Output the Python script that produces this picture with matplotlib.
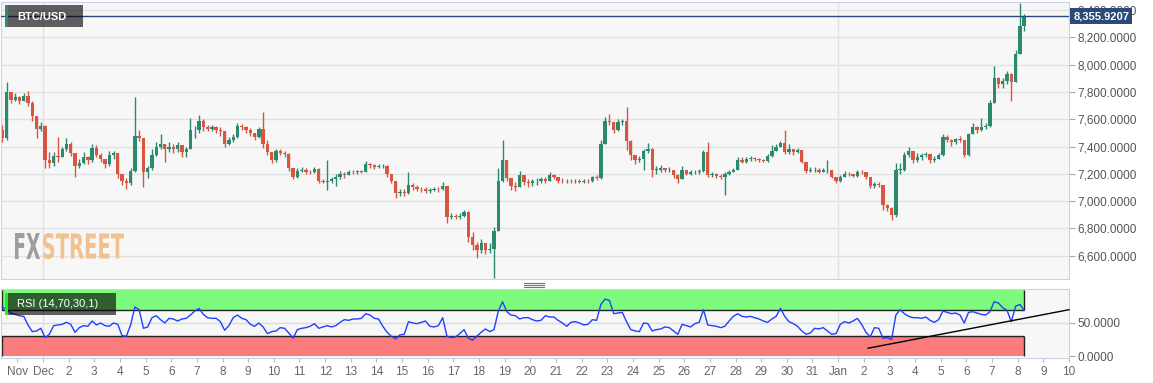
import numpy as np
import matplotlib
matplotlib.use('Agg')
import matplotlib.pyplot as plt
from matplotlib.lines import Line2D
from matplotlib.patches import Rectangle, PathPatch
from matplotlib.textpath import TextPath
from matplotlib.font_manager import FontProperties
from matplotlib import transforms
from matplotlib.ticker import FuncFormatter

plt.rcParams['font.family'] = ['Liberation Sans', 'DejaVu Sans']

#%%
# BTC/USD 4h candles from Nov 29 08:00, x axis in days since Dec 1 00:00
start_day = -5 / 3
bar_days = 1 / 6
first_open = 7520

closes = [
    7460, 7800, 7740, 7760, 7730, 7770, 7720, 7620, 7530, 7550,
    7300, 7280, 7330, 7320, 7380, 7420, 7350, 7260, 7280, 7320,
    7300, 7390, 7340, 7310, 7270, 7340, 7350, 7200, 7150, 7130,
    7220, 7480, 7460, 7210, 7240, 7340, 7400, 7420, 7380, 7400,
    7380, 7410, 7360, 7380, 7520, 7520, 7590, 7540, 7530, 7540,
    7520, 7510, 7420, 7450, 7470, 7550, 7540, 7520, 7500, 7470,
    7530, 7420, 7360, 7300, 7370, 7350, 7345, 7240, 7180, 7220,
    7230, 7215, 7210, 7235, 7150, 7140, 7150, 7160, 7180, 7200,
    7190, 7215, 7210, 7220, 7215, 7270, 7265, 7250, 7255, 7260,
    7200, 7150, 7060, 7070, 7060, 7120, 7100, 7090, 7085, 7075,
    7080, 7090, 7085, 7110, 6880, 6890, 6885, 6890, 6920, 6740,
    6680, 6640, 6690, 6640, 6650, 6780, 7150, 7300, 7170, 7110,
    7100, 7190, 7140, 7130, 7145, 7150, 7165, 7150, 7190, 7175,
    7150, 7145, 7150, 7145, 7150, 7140, 7150, 7145, 7175, 7170,
    7420, 7590, 7580, 7520, 7580, 7590, 7440, 7340, 7300, 7310,
    7370, 7380, 7230, 7230, 7240, 7225, 7230, 7190, 7160, 7230,
    7200, 7210, 7215, 7220, 7360, 7190, 7200, 7185, 7175, 7200,
    7210, 7230, 7300, 7290, 7310, 7315, 7305, 7300, 7295, 7330,
    7370, 7400, 7425, 7360, 7380, 7360, 7375, 7290, 7220, 7225,
    7230, 7215, 7225, 7230, 7180, 7145, 7180, 7200, 7195, 7185,
    7215, 7210, 7175, 7110, 7125, 7120, 6970, 6950, 6900, 7230,
    7230, 7340, 7370, 7300, 7320, 7340, 7345, 7300, 7310, 7340,
    7470, 7450, 7430, 7455, 7450, 7340, 7490, 7540, 7520, 7540,
    7550, 7720, 7900, 7860, 7880, 7930, 7870, 8080, 8280, 8355.9207,
]
highs = [
    7560, 7870, 7800, 7790, 7770, 7790, 7810, 7730, 7620, 7580,
    7560, 7360, 7360, 7470, 7400, 7460, 7430, 7350, 7310, 7360,
    7330, 7420, 7410, 7350, 7310, 7370, 7370, 7340, 7200, 7170,
    7240, 7760, 7520, 7460, 7260, 7380, 7430, 7490, 7420, 7430,
    7420, 7430, 7410, 7400, 7610, 7550, 7630, 7600, 7560, 7555,
    7550, 7540, 7510, 7470, 7490, 7575, 7565, 7550, 7535, 7500,
    7545, 7650, 7450, 7360, 7385, 7380, 7370, 7350, 7240, 7240,
    7250, 7240, 7230, 7250, 7240, 7160, 7300, 7180, 7200, 7220,
    7215, 7230, 7230, 7230, 7230, 7295, 7280, 7275, 7270, 7275,
    7265, 7200, 7150, 7090, 7085, 7210, 7130, 7120, 7105, 7100,
    7095, 7100, 7100, 7140, 7110, 6910, 6905, 6910, 6935, 6930,
    6770, 6700, 6720, 6690, 6690, 6810, 7240, 7450, 7300, 7170,
    7140, 7220, 7190, 7160, 7160, 7170, 7180, 7175, 7210, 7200,
    7180, 7170, 7165, 7160, 7160, 7160, 7165, 7160, 7185, 7190,
    7450, 7615, 7640, 7580, 7600, 7605, 7690, 7450, 7330, 7330,
    7385, 7425, 7390, 7260, 7265, 7245, 7250, 7230, 7200, 7255,
    7230, 7225, 7230, 7235, 7375, 7435, 7215, 7205, 7195, 7215,
    7230, 7245, 7320, 7325, 7325, 7330, 7325, 7315, 7310, 7345,
    7410, 7420, 7440, 7520, 7420, 7380, 7390, 7375, 7290, 7250,
    7250, 7240, 7240, 7300, 7230, 7180, 7190, 7220, 7215, 7200,
    7230, 7230, 7205, 7175, 7140, 7140, 7120, 6975, 6960, 7280,
    7280, 7360, 7400, 7360, 7350, 7355, 7360, 7330, 7330, 7355,
    7490, 7485, 7455, 7465, 7475, 7450, 7500, 7575, 7550, 7610,
    7570, 7740, 7990, 7910, 7900, 7950, 7940, 8110, 8455, 8370,
]
lows = [
    7430, 7450, 7720, 7730, 7710, 7730, 7700, 7590, 7460, 7510,
    7240, 7240, 7260, 7290, 7320, 7370, 7330, 7180, 7240, 7270,
    7270, 7290, 7320, 7290, 7240, 7260, 7310, 7170, 7120, 7090,
    7120, 7210, 7440, 7100, 7170, 7230, 7330, 7380, 7290, 7360,
    7350, 7360, 7320, 7320, 7380, 7460, 7500, 7510, 7510, 7510,
    7500, 7480, 7400, 7410, 7430, 7460, 7520, 7500, 7480, 7450,
    7460, 7390, 7340, 7280, 7290, 7340, 7320, 7220, 7160, 7170,
    7210, 7200, 7195, 7205, 7130, 7130, 7080, 7130, 7110, 7165,
    7170, 7190, 7200, 7200, 7205, 7210, 7245, 7235, 7240, 7245,
    7180, 7135, 7025, 7040, 7040, 7050, 7080, 7075, 7070, 7060,
    7060, 7075, 7070, 7080, 6840, 6870, 6870, 6870, 6880, 6700,
    6640, 6580, 6620, 6615, 6620, 6435, 6780, 7140, 7150, 7080,
    7075, 7100, 7120, 7105, 7110, 7120, 7135, 7135, 7150, 7160,
    7135, 7130, 7135, 7130, 7135, 7130, 7135, 7130, 7140, 7155,
    7160, 7420, 7560, 7500, 7510, 7560, 7375, 7300, 7270, 7290,
    7230, 7350, 7180, 7200, 7215, 7210, 7215, 7170, 7135, 7160,
    7190, 7190, 7195, 7200, 7215, 7175, 7180, 7170, 7165, 7045,
    7190, 7210, 7225, 7280, 7280, 7295, 7295, 7290, 7285, 7290,
    7325, 7370, 7395, 7345, 7345, 7340, 7355, 7280, 7205, 7210,
    7210, 7205, 7210, 7205, 7170, 7130, 7140, 7180, 7185, 7175,
    7180, 7195, 7165, 7095, 7095, 7100, 6935, 6930, 6860, 6880,
    7200, 7220, 7325, 7280, 7290, 7300, 7325, 7280, 7290, 7310,
    7330, 7430, 7405, 7420, 7430, 7320, 7330, 7500, 7500, 7510,
    7530, 7540, 7720, 7830, 7830, 7860, 7730, 7930, 8080, 8250,
]
rsi = [
    74, 70, 65, 63, 61, 60, 47, 37, 38, 42,
    28, 33, 46, 47, 48, 51, 48, 36, 43, 46,
    45, 53, 47, 50, 46, 45, 50, 48, 31, 30,
    47, 74, 70, 42, 44, 58, 61, 55, 50, 57,
    56, 53, 56, 57, 62, 68, 72, 63, 58, 57,
    57, 52, 39, 46, 58, 62, 57, 55, 48, 45,
    50, 44, 34, 37, 38, 43, 42, 35, 27, 40,
    42, 43, 45, 49, 42, 44, 46, 44, 46, 51,
    55, 54, 56, 56, 57, 64, 62, 57, 56, 45,
    36, 30, 26, 32, 33, 52, 50, 49, 51, 53,
    45, 44, 46, 58, 30, 28, 29, 34, 40, 27,
    24, 30, 36, 41, 37, 40, 68, 82, 67, 62,
    61, 56, 58, 58, 55, 53, 54, 61, 59, 59,
    54, 50, 45, 51, 52, 50, 47, 48, 55, 54,
    78, 86, 84, 64, 65, 66, 52, 40, 38, 37,
    50, 49, 38, 40, 41, 44, 43, 38, 33, 48,
    46, 44, 49, 51, 70, 47, 46, 45, 43, 45,
    53, 60, 64, 60, 59, 60, 58, 56, 53, 51,
    56, 60, 72, 60, 52, 49, 45, 38, 33, 35,
    42, 41, 43, 38, 33, 34, 48, 52, 50, 53,
    57, 48, 36, 29, 43, 42, 27, 28, 25, 62,
    70, 64, 60, 58, 58, 57, 59, 54, 51, 55,
    68, 66, 64, 65, 62, 50, 66, 67, 65, 63,
    62, 67, 82, 80, 73, 69, 52, 75, 78, 69,
]

# RSI support trend line (days, RSI)
trend_days = [32.17, 40.0]
trend_rsi = [12, 70]

price_ticks = [6600, 6800, 7000, 7200, 7400, 7600, 7800, 8000, 8200, 8400]
rsi_ticks = [0, 50]
day_ticks = list(range(-1, 41))
day_labels = ['Nov', 'Dec'] + [str(d) for d in range(2, 32)] + ['Jan'] + [str(d) for d in range(2, 11)]
month_lines = [0, 31]

#%%
W, H = 1153, 383
closes = np.array(closes, dtype=float)
opens = np.r_[first_open, closes[:-1]]
highs = np.maximum(np.array(highs, dtype=float), np.maximum(opens, closes))
lows = np.minimum(np.array(lows, dtype=float), np.minimum(opens, closes))
t = start_day + np.arange(len(closes)) * bar_days + bar_days / 2
green, red = '#2a8a6e', '#d9553f'
cols = np.where(closes >= opens, green, red)

xlim = (-1.636, 40.0)
border = '#cdd1e4'

fig = plt.figure(figsize=(W / 100, H / 100), dpi=100)
ax = fig.add_axes([1 / W, 1 - 279 / H, 1068 / W, 277 / H])
ax2 = fig.add_axes([1 / W, 1 - 357.5 / H, 1068 / W, 68.5 / H])

# price panel
ax.set_facecolor('#f7f7f7')
ax.set_xlim(*xlim)
ax.set_ylim(6429, 8459)
ax.set_yticks(price_ticks)
ax.grid(axis='y', color='#e2e2e2', lw=1)
ax.set_axisbelow(True)
for m in month_lines:
    ax.axvline(m, color='#e2e2e2', lw=1, zorder=0.5)
ax.vlines(t, lows, highs, colors=cols, lw=1, zorder=2)
ax.bar(t, np.maximum(np.abs(closes - opens), 4), bottom=np.minimum(opens, closes),
       width=bar_days * 0.78, color=cols, linewidth=0, zorder=2)
ax.axhline(closes[-1], color='#2b4a7b', lw=1, zorder=3)
ax.text(1.004, closes[-1], f'{closes[-1]:,.4f}', transform=ax.get_yaxis_transform(),
        ha='left', va='center', color='white', fontsize=8, fontweight='bold', zorder=5,
        clip_on=False, bbox=dict(boxstyle='square,pad=0.25', fc='#2b4a7b', ec='none'))
ax.yaxis.tick_right()
ax.yaxis.set_major_formatter(FuncFormatter(lambda v, p: f'{v:,.4f}'))
ax.tick_params(axis='y', direction='out', length=4, color='#aaaaaa', labelcolor='#555555',
               labelsize=8.5, pad=2)
ax.tick_params(axis='x', bottom=False, labelbottom=False)
for s in ax.spines.values():
    s.set_color(border)

# RSI panel
ax2.set_facecolor('#f7f7f7')
ax2.set_xlim(*xlim)
ax2.set_ylim(-2, 101.2)
band_end = t[-1]
ax2.axhline(50, color='#dddddd', lw=1, zorder=0.5)
for m in month_lines:
    ax2.axvline(m, color='#e2e2e2', lw=1, zorder=0.5)
ax2.fill_between([xlim[0], band_end], 70, 100, color='#7cfb7c', lw=0, zorder=1)
ax2.fill_between([xlim[0], band_end], 0, 30, color='#fb7c7c', lw=0, zorder=1)
ax2.hlines([30, 70], xlim[0], band_end, color='#222222', lw=1, zorder=2)
ax2.vlines([xlim[0] + 0.02, band_end], [0, 0], [30, 30], color='#222222', lw=1, zorder=2)
ax2.vlines([xlim[0] + 0.02, band_end], [70, 70], [100, 100], color='#222222', lw=1, zorder=2)
ax2.plot(t, rsi, color='#2040ff', lw=1, zorder=3)
ax2.plot(trend_days, trend_rsi, color='black', lw=1, zorder=3, clip_on=False)
ax2.yaxis.tick_right()
ax2.set_yticks(rsi_ticks)
ax2.yaxis.set_major_formatter(FuncFormatter(lambda v, p: f'{v:.4f}'))
ax2.tick_params(axis='y', direction='out', length=4, color='#aaaaaa', labelcolor='#555555',
                labelsize=8.5, pad=2)
ax2.set_xticks(day_ticks)
ax2.set_xticklabels(day_labels)
ax2.tick_params(axis='x', direction='out', length=3, color='#bbbbbb', labelcolor='#666666',
                labelsize=8.5, pad=3)
for s in ax2.spines.values():
    s.set_color(border)

# labels boxes
fig.add_artist(Rectangle((5 / W, 1 - 27 / H), 78 / W, 22 / H, transform=fig.transFigure,
                         fc='black', alpha=0.62, ec='none'))
fig.add_artist(Rectangle((5 / W, 1 - 27 / H), 3 / W, 22 / H, transform=fig.transFigure,
                         fc='#2e8b6f', ec='none'))
fig.text(17 / W, 1 - 16.5 / H, 'BTC/USD', color='white', fontsize=8, fontweight='bold', va='center')
fig.add_artist(Rectangle((5 / W, 1 - 315 / H), 111 / W, 22 / H, transform=fig.transFigure,
                         fc='black', alpha=0.62, ec='none'))
fig.add_artist(Rectangle((5 / W, 1 - 315 / H), 3 / W, 22 / H, transform=fig.transFigure,
                         fc='#22ee22', ec='none'))
fig.text(17 / W, 1 - 304 / H, 'RSI (14,70,30,1)', color='white', fontsize=8, va='center')

# panel resize handle
for yy in (282.5, 284.5, 286.5):
    fig.add_artist(Line2D([524 / W, 544 / W], [1 - yy / H, 1 - yy / H], transform=fig.transFigure,
                          color='#777777', lw=0.8))

# FXSTREET watermark
def logo(text, x0, x1, y_top, y_bot, color):
    tp = TextPath((0, 0), text, size=100, prop=FontProperties(family='DejaVu Sans', weight='bold'))
    bb = tp.get_extents()
    tr = (transforms.Affine2D().translate(-bb.x0, -bb.y0)
          .scale((x1 - x0) / bb.width, (y_bot - y_top) / bb.height)
          .translate(x0, H - y_bot))
    fig.add_artist(PathPatch(tp, transform=tr, fc=color, ec='none'))

logo('FX', 15, 40, 233, 259, '#9d9d9d')
logo('STREET', 43, 124, 233, 259, '#f1c18f')

fig.savefig('out.png', dpi=100)
